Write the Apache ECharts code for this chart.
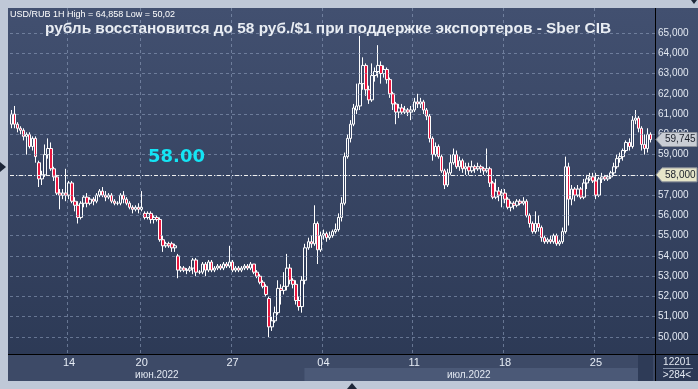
<!DOCTYPE html>
<html><head><meta charset="utf-8">
<script src="https://cdn.jsdelivr.net/npm/echarts@6/dist/echarts.min.js"></script>
<style>html,body{margin:0;padding:0;background:#bfc8d7;}#c{width:698px;height:389px;}</style>
</head><body><div id="c"></div>
<script>
// [open, close, low, high]
const candles = [
[60.5,61.0,60.3,61.2],[61.0,60.5,60.3,61.4],[60.5,60.3,60.1,60.6],[60.3,60.2,60.0,60.4],[60.2,59.9,59.7,60.3],
[59.9,60.0,59.0,60.1],[60.0,59.4,59.3,60.1],[59.4,59.8,59.2,59.9],[59.8,58.9,58.6,59.9],[58.6,57.8,57.4,58.7],
[57.8,58.0,57.5,58.2],[58.0,59.0,57.9,59.5],[59.0,59.3,58.8,59.8],[59.3,58.3,58.2,59.6],[58.3,57.9,57.7,58.4],
[57.9,57.1,57.0,58.0],[57.1,57.0,56.3,57.3],[57.0,57.1,56.8,57.3],[57.1,57.0,56.7,58.3],[57.0,57.6,56.8,57.7],
[57.6,56.7,56.6,57.7],[56.7,56.5,56.2,56.9],[56.5,55.9,55.6,56.7],[55.9,56.6,55.8,56.7],[56.6,56.9,56.4,57.0],
[56.9,56.6,56.4,57.1],[56.6,56.8,56.5,56.9],[56.8,56.7,56.5,56.9],[56.7,57.0,56.6,57.1],[57.0,57.2,56.9,57.3],
[57.2,57.0,56.9,57.4],[57.0,56.9,56.7,57.2],[56.9,57.0,56.8,57.1],[57.0,56.7,56.6,57.1],[56.7,56.6,56.5,56.8],
[56.6,56.6,56.5,56.7],[56.6,57.0,56.5,57.1],[57.0,56.8,56.6,57.2],[56.8,56.6,56.5,56.9],[56.6,56.4,56.3,56.7],
[56.4,56.3,56.1,56.5],[56.3,56.4,56.2,56.5],[56.4,56.3,56.1,56.6],[56.3,56.4,56.2,57.2],[56.1,55.9,55.8,56.2],
[55.9,56.1,55.8,56.2],[56.1,55.8,55.6,56.2],[55.8,55.9,55.6,56.0],[55.9,55.8,55.7,56.0],[55.8,54.8,54.7,55.9],
[54.8,54.5,54.2,55.0],[54.5,54.6,54.4,54.7],[54.6,54.5,54.4,54.7],[54.6,54.4,54.2,54.7],[54.4,54.5,54.2,54.6],
[54.0,53.3,52.9,54.1],[53.3,53.4,53.2,53.5],[53.4,53.3,53.2,53.5],[53.3,53.3,53.1,53.4],[53.3,53.4,53.2,53.5],
[53.4,53.8,53.1,53.9],[53.8,53.2,53.0,53.9],[53.2,53.2,53.1,53.3],[53.2,53.6,53.1,53.7],[53.6,53.3,53.0,53.7],
[53.3,53.7,53.2,53.8],[53.7,53.3,53.2,53.8],[53.3,53.4,53.2,53.5],[53.4,53.5,53.3,53.6],[53.5,53.4,53.3,53.6],
[53.4,53.6,53.3,53.7],[53.6,53.5,53.4,53.7],[53.5,53.7,53.4,54.5],[53.7,53.3,53.2,53.8],[53.3,53.4,53.2,53.5],
[53.4,53.3,53.2,53.5],[53.3,53.4,53.2,53.5],[53.4,53.5,53.3,53.6],[53.5,53.4,53.3,53.6],[53.4,53.6,53.3,53.7],
[53.6,53.2,53.1,53.6],[53.2,53.0,52.9,53.3],[53.0,52.7,52.6,53.1],[52.7,52.5,52.4,52.8],[52.5,52.1,52.0,52.6],
[51.9,50.5,50.0,52.0],[50.5,50.8,50.3,51.0],[50.8,51.2,50.7,51.5],[51.2,52.4,51.1,52.8],[52.4,52.3,51.6,52.6],
[52.3,52.5,52.1,53.2],[52.5,53.4,52.3,54.1],[53.4,52.8,52.6,53.6],[52.8,52.6,52.4,52.9],[52.6,51.8,51.6,52.8],
[51.8,51.5,51.3,52.0],[51.5,52.8,51.2,53.0],[52.8,54.4,52.6,54.6],[54.4,54.7,54.3,54.9],[54.7,54.6,54.4,55.0],
[54.6,55.6,54.5,56.5],[55.6,54.3,53.6,55.7],[54.3,55.0,54.2,55.2],[55.0,55.1,54.8,55.3],[55.1,54.9,54.7,55.2],
[54.9,55.0,54.8,55.2],[55.0,55.2,54.9,55.3],[55.2,55.3,55.1,55.6],[55.3,55.9,55.2,56.1],[55.9,56.6,55.7,56.9],
[56.6,58.9,56.5,59.1],[58.9,59.8,58.8,60.0],[59.8,60.5,59.6,60.7],[60.5,61.3,60.4,61.5],[61.2,61.4,61.0,62.5],
[61.4,62.5,61.2,64.858],[62.5,63.4,62.2,63.8],[63.4,62.2,61.9,63.5],[62.2,61.7,61.5,62.4],[61.7,62.9,61.6,63.5],
[62.9,63.1,62.6,63.3],[63.1,63.4,62.8,64.4],[63.4,63.0,62.5,63.6],[63.0,63.2,62.8,63.4],[63.2,62.7,62.5,63.3],
[62.7,62.0,61.8,62.8],[62.0,61.5,61.2,62.1],[61.5,61.1,60.5,61.6],[61.1,61.3,60.8,61.5],[61.3,61.1,61.0,61.5],
[61.1,61.2,61.0,61.4],[61.2,61.1,60.9,61.3],[61.1,61.2,60.7,61.4],[61.2,61.6,61.1,61.8],[61.6,61.5,61.3,62.0],
[61.5,61.6,61.3,61.8],[61.6,61.2,61.0,61.7],[61.2,60.9,60.7,61.3],[60.9,59.8,59.6,61.0],[59.8,59.0,58.7,59.9],
[59.0,59.4,58.9,59.6],[59.4,58.9,58.8,59.5],[58.9,58.2,58.1,59.0],[58.2,57.5,57.3,58.3],[57.5,58.1,57.4,58.3],
[58.1,58.6,58.0,59.0],[58.6,59.0,58.5,59.3],[59.0,58.4,58.3,59.2],[58.4,58.7,58.2,58.9],[58.7,58.3,58.1,58.8],
[58.3,58.4,58.0,58.6],[58.4,58.2,58.0,58.6],[58.2,58.4,58.1,58.7],[58.4,58.3,58.1,58.5],[58.3,58.4,58.2,58.6],
[58.4,58.3,58.1,58.5],[58.3,58.2,58.0,58.4],[58.2,58.3,58.1,59.3],[58.3,57.6,57.4,58.4],[57.6,56.9,56.8,57.7],
[56.9,57.2,56.8,57.8],[57.2,57.0,56.7,57.4],[57.0,57.1,56.4,57.3],[57.1,56.8,56.6,57.3],[56.8,56.4,56.3,56.9],
[56.4,56.6,56.2,56.7],[56.6,56.5,56.3,56.7],[56.5,56.7,56.4,56.8],[56.7,56.6,56.5,56.8],[56.6,56.7,56.5,56.9],
[56.7,56.0,55.9,56.8],[56.0,55.6,55.4,56.1],[55.6,55.2,55.1,55.7],[55.2,55.6,55.1,56.2],[55.6,55.4,55.2,56.0],
[55.4,54.9,54.7,55.5],[54.9,54.7,54.6,55.0],[54.7,54.8,54.6,54.9],[54.8,54.7,54.6,55.0],[54.7,55.0,54.6,55.1],
[55.0,54.6,54.5,55.1],[54.6,54.7,54.5,54.8],[54.7,55.2,54.6,55.4],[55.2,58.4,55.1,58.9],[58.4,56.8,55.5,58.6],
[56.8,57.3,56.5,57.5],[57.3,57.0,56.7,57.4],[57.0,57.3,56.9,57.5],[57.3,56.9,56.8,57.4],[56.9,57.6,56.8,57.8],
[57.6,57.8,57.3,58.0],[57.8,57.9,57.7,58.1],[57.9,57.7,57.6,58.1],[57.7,57.0,56.8,58.1],[57.0,57.8,56.9,57.9],
[57.8,57.9,57.6,58.1],[57.9,57.8,57.7,58.0],[57.8,57.9,57.7,58.0],[57.9,58.1,57.8,58.2],[58.1,58.4,58.0,58.6],
[58.4,58.8,58.3,59.0],[58.8,58.9,58.6,59.1],[58.9,59.2,58.7,59.3],[59.2,59.6,59.1,59.7],[59.6,59.4,59.2,59.8],
[59.4,60.7,59.3,60.9],[60.7,60.8,60.5,61.2],[60.8,60.3,60.1,60.9],[60.3,59.5,59.2,60.4],[59.5,59.3,59.0,60.0],
[59.3,60.0,59.1,60.3],[60.0,59.745,59.6,60.1]
];
const slotCount = 213;
const weekIdx = [19, 43, 73, 103, 133, 163, 193];
const weekText = ['14', '20', '27', '04', '11', '18', '25'];
const months = [{text:'июн.2022', idx:48}, {text:'июл.2022', idx:151}];
const yTicks = [50,51,52,53,54,55,56,57,58,59,60,61,62,63,64,65];
const targetLevel = 58;
const lastPrice = 59.745;
const title = 'рубль восстановится до 58 руб./$1 при поддержке экспортеров - Sber CIB';
const info = 'USD/RUB 1H High = 64,858 Low = 50,02';

const categories = [];
for (let i = 0; i < slotCount; i++) categories.push(String(i));

const fmt = v => v.toFixed(3).replace('.', ',');
const chart = echarts.init(document.getElementById('c'), null, {renderer:'canvas'});
const GL = 10, GR = 655, GT = 8, GB = 354;
const option = {
  animation: false,
  grid: {left: GL, right: 698 - GR, top: GT, bottom: 389 - GB},
  xAxis: {
    type: 'category', data: categories, boundaryGap: true,
    axisLine: {show: false}, axisTick: {show: false},
    axisLabel: {
      interval: (i) => weekIdx.indexOf(i) >= 0,
      formatter: (v, i) => { const k = weekIdx.indexOf(i); return k >= 0 ? weekText[k] : ''; },
      color: '#e6ecf5', fontSize: 11, margin: 3, fontFamily: 'Liberation Sans'
    },
    splitLine: {show: true, interval: (i) => weekIdx.indexOf(i) >= 0,
      lineStyle: {color: 'rgba(150,165,195,0.55)', type: [3, 3], width: 1}}
  },
  yAxis: {
    type: 'value', position: 'right', scale: true,
    axisLine: {show: false}, axisTick: {show: false}, splitLine: {show: false},
    axisLabel: {customValues: yTicks, formatter: v => fmt(v), color: '#e3e9f2', fontSize: 10,
      margin: 3, fontFamily: 'Liberation Sans'}
  },
  series: [{
    type: 'candlestick', data: candles, barWidth: 3,
    itemStyle: {color: 'rgba(0,0,0,0)', color0: '#e8173f', borderColor: '#ffffff', borderColor0: '#ffffff', borderWidth: 1},
    markLine: {
      silent: true, symbol: 'none', label: {show: false}, animation: false,
      data: yTicks.map(v => ({yAxis: v, lineStyle: {color: 'rgba(150,165,195,0.55)', type: [3, 3], width: 1}}))
        .concat([{yAxis: targetLevel, lineStyle: {color: '#f0f0f0', type: [4, 2, 1, 2], width: 1}}])
    }
  }]
};
// y range: 65 at y=33, 50 at y=337
const pxPerUnit = (337 - 33) / 15;
option.yAxis.max = 65 + (33 - GT) / pxPerUnit;
option.yAxis.min = 65 - (GB - 33) / pxPerUnit;
chart.setOption(option);

const yPx = v => chart.convertToPixel({yAxisIndex: 0}, v);
const xPx = i => chart.convertToPixel({xAxisIndex: 0}, i);
function tagShape(y, fill) {
  return {type: 'polygon', z: 200,
    shape: {points: [[656, y], [662, y - 7], [697, y - 7], [697, y + 7], [662, y + 7]]},
    style: {fill: fill, stroke: '#8a909a', lineWidth: 1}};
}
const yT = yPx(targetLevel), yL = yPx(lastPrice);
const julX = xPx(weekIdx[3]) - 19;
chart.setOption({graphic: {elements: [
  {type: 'rect', z: -100, shape: {x: 8, y: 8, width: 690, height: 373},
    style: {fill: new echarts.graphic.LinearGradient(0, 0, 0, 1, [{offset: 0, color: '#425070'}, {offset: 1, color: '#2b3854'}])}},
  {type: 'rect', z: -90, shape: {x: 8, y: 355, width: 647, height: 26}, style: {fill: '#3d4a67'}},
  {type: 'rect', z: -89, shape: {x: julX, y: 368, width: 638 - julX, height: 13}, style: {fill: '#4b5977'}},
  {type: 'rect', z: -88, shape: {x: 638, y: 355, width: 15, height: 26}, style: {fill: '#2e3b57'}},
  {type: 'line', z: 150, shape: {x1: 8, y1: 354.5, x2: 698, y2: 354.5}, style: {stroke: '#000', lineWidth: 1}},
  {type: 'line', z: 150, shape: {x1: 655.5, y1: 8, x2: 655.5, y2: 381}, style: {stroke: '#000', lineWidth: 1}},
  {type: 'line', z: 150, shape: {x1: 663, y1: 368.5, x2: 693, y2: 368.5}, style: {stroke: '#8895ab', lineWidth: 1}},
  {type: 'text', z: 150, x: 677, y: 362, style: {text: '12201', fill: '#e3e9f2', font: '10px "Liberation Sans"', align: 'center', verticalAlign: 'middle'}},
  {type: 'text', z: 150, x: 677, y: 375, style: {text: '>284<', fill: '#e3e9f2', font: '10px "Liberation Sans"', align: 'center', verticalAlign: 'middle'}},
  {type: 'text', z: 150, x: xPx(months[0].idx), y: 375, style: {text: months[0].text, fill: '#e3e9f2', font: '10px "Liberation Sans"', align: 'center', verticalAlign: 'middle'}},
  {type: 'text', z: 150, x: xPx(months[1].idx), y: 375, style: {text: months[1].text, fill: '#e3e9f2', font: '10px "Liberation Sans"', align: 'center', verticalAlign: 'middle'}},
  {type: 'text', z: 150, x: 10, y: 15, style: {text: info, fill: '#ffffff', font: '9px "Liberation Sans"', verticalAlign: 'middle'}},
  {type: 'text', z: 150, x: 328, y: 29, style: {text: title, fill: '#e9edf3', font: 'bold 15.4px "Liberation Sans"', align: 'center', verticalAlign: 'middle'}},
  {type: 'text', z: 150, x: 148, y: yT - 18, style: {text: '58.00', fill: '#14e4f4', font: 'bold 18px "DejaVu Sans"', verticalAlign: 'middle'}},
  tagShape(yL, '#c9cdd4'),
  {type: 'text', z: 210, x: 665, y: yL, style: {text: fmt(lastPrice), fill: '#1a1f2a', font: '10px "Liberation Sans"', verticalAlign: 'middle'}},
  tagShape(yT, '#e6e5c9'),
  {type: 'text', z: 210, x: 665, y: yT, style: {text: fmt(targetLevel), fill: '#1a1f2a', font: '10px "Liberation Sans"', verticalAlign: 'middle'}},
  {type: 'polygon', z: 150, shape: {points: [[0, 162], [6, 167], [0, 172]]}, style: {fill: '#1d2638'}},
  {type: 'polygon', z: 150, shape: {points: [[691, 0], [697, 0], [694, 4]]}, style: {fill: '#1d2638'}},
  {type: 'polygon', z: 150, shape: {points: [[347, 389], [352, 383], [357, 389]]}, style: {fill: '#1d2638'}}
]}});
</script></body></html>
